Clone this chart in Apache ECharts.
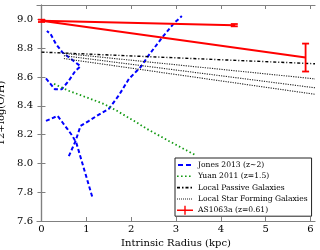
<!DOCTYPE html>
<html><head><meta charset="utf-8">
<script src="https://cdn.jsdelivr.net/npm/echarts@6/dist/echarts.min.js"></script>
<style>html,body{margin:0;padding:0;background:#fff}#c{width:320px;height:250px}</style>
</head><body><div id="c"></div>
<script>
// ---- data ----
const xTicks = [0, 1, 2, 3, 4, 5, 6];
const yTicks = [7.6, 7.8, 8.0, 8.2, 8.4, 8.6, 8.8, 9.0];

// Jones 2013 (z~2) profiles
const jonesAX = [0.10, 0.30, 0.45, 0.60, 0.75, 0.87, 0.64, 0.47, 0.32, 0.20, 0.12];
const jonesAY = [8.59, 8.515, 8.515, 8.57, 8.64, 8.675, 8.73, 8.77, 8.83, 8.90, 8.92];
const jonesBX = [0.10, 0.36, 0.47, 0.58, 0.69, 0.78, 0.95, 1.13];
const jonesBY = [8.295, 8.33, 8.284, 8.238, 8.191, 8.14, 7.96, 7.77];
const jonesCX = [0.61, 0.76, 0.87, 1.06, 1.24, 1.50, 1.72, 1.95, 2.21, 2.39, 2.69, 2.95, 3.13];
const jonesCY = [8.05, 8.156, 8.26, 8.296, 8.331, 8.378, 8.47, 8.587, 8.669, 8.75, 8.874, 8.972, 9.023];

// Yuan 2011 (z=1.5)
const yuanX = [0.28, 0.60, 1.00, 1.39, 1.65, 2.06, 2.36, 2.84, 3.43];
const yuanY = [8.552, 8.505, 8.459, 8.413, 8.371, 8.296, 8.238, 8.156, 8.058];

// Local Passive Galaxies
const passiveX = [0, 6.1];
const passiveY = [8.773, 8.692];

// Local Star Forming Galaxies (three gradients)
const sfX = [0.5, 6.1];
const sf1Y = [8.764, 8.587];
const sf2Y = [8.748, 8.525];
const sf3Y = [8.728, 8.48];

// AS1063a (z=0.61)
const asX = [0, 4.3, 5.89];
const asY = [8.99, 8.96, 8.735];
const asErr = [0.008, 0.008, 0.097];

// ---- build ----
const zip = (xs, ys) => xs.map((x, i) => [x, ys[i]]);
const SERIF = 'DejaVu Serif';
const AX = '#808080';

const JONES = 'Jones 2013 (z\u223c2)';
const YUAN = 'Yuan 2011 (z=1.5)';
const PASS = 'Local Passive Galaxies';
const SF = 'Local Star Forming Galaxies';
const AS = 'AS1063a (z=0.61)';

const blueStyle = {color: '#0000ff', width: 2, type: [4, 2.5]};
const greenStyle = {color: '#129a12', width: 1.8, type: [1.5, 2.5]};
const passStyle = {color: '#000000', width: 1.4, type: [3, 2, 1, 2]};
const sfStyle = {color: '#222222', width: 1.1, type: [1.2, 1.2]};

function lineSeries(name, data, style, z) {
  return {type: 'line', name, data, showSymbol: false, symbol: 'none',
    lineStyle: style, itemStyle: {color: style.color}, z: z || 2, silent: true, animation: false, clip: true};
}

const series = [
  lineSeries(JONES, zip(jonesAX, jonesAY), blueStyle),
  lineSeries(JONES, zip(jonesBX, jonesBY), blueStyle),
  lineSeries(JONES, zip(jonesCX, jonesCY), blueStyle),
  lineSeries(YUAN, zip(yuanX, yuanY), greenStyle),
  lineSeries(PASS, zip(passiveX, passiveY), passStyle),
  lineSeries(SF, zip(sfX, sf1Y), sfStyle),
  lineSeries(SF, zip(sfX, sf2Y), sfStyle),
  lineSeries(SF, zip(sfX, sf3Y), sfStyle),
  {
    type: 'custom', name: AS, data: asX.map((x, i) => [x, asY[i], asErr[i]]),
    itemStyle: {color: '#ff0000'}, z: 4, animation: false, silent: true,
    renderItem: function (params, api) {
      const x = api.value(0), y = api.value(1), e = api.value(2);
      const t = api.coord([x, y + e]), b = api.coord([x, y - e]);
      const hw = 3.5;
      const st = {stroke: '#ff0000', lineWidth: 1.8};
      return {type: 'group', children: [
        {type: 'line', shape: {x1: t[0], y1: t[1], x2: b[0], y2: b[1]}, style: st},
        {type: 'line', shape: {x1: t[0] - hw, y1: t[1], x2: t[0] + hw, y2: t[1]}, style: st},
        {type: 'line', shape: {x1: b[0] - hw, y1: b[1], x2: b[0] + hw, y2: b[1]}, style: st}
      ]};
    }
  },
  lineSeries('as-1', [[asX[0], asY[0]], [asX[1], asY[1]]], {color: '#ff0000', width: 2, type: 'solid'}, 3),
  lineSeries('as-2', [[asX[0], asY[0]], [asX[2], asY[2]]], {color: '#ff0000', width: 2, type: 'solid'}, 3)
];

const axLine = {show: true, lineStyle: {color: AX, width: 1.2}};
const tickIn = (vals) => ({show: true, inside: true, length: 4, customValues: vals, lineStyle: {color: AX, width: 1}});

// legend icons (16x10 box; tiny corner triangles pin the bounding box)
const PIN = 'M0,0L0.01,0L0,0.01Z M16,10L15.99,10L16,9.99Z ';
const ICON_JONES = 'path://' + PIN + 'M1,4H6V6H1Z M9,4H14V6H9Z';
const ICON_YUAN = 'path://' + PIN + 'M0,4.2H1.6V5.8H0Z M4,4.2H5.6V5.8H4Z M8,4.2H9.6V5.8H8Z M12,4.2H13.6V5.8H12Z';
const ICON_PASS = 'path://' + PIN + 'M0,4.2H3V5.8H0Z M5,4.2H6.5V5.8H5Z M8.5,4.2H11.5V5.8H8.5Z M13.5,4.2H15V5.8H13.5Z';
const ICON_SF = 'path://' + PIN + 'M0,4.5H1V5.5H0Z M2,4.5H3V5.5H2Z M4,4.5H5V5.5H4Z M6,4.5H7V5.5H6Z M8,4.5H9V5.5H8Z M10,4.5H11V5.5H10Z M12,4.5H13V5.5H12Z M14,4.5H15V5.5H14Z';
const ICON_AS = 'path://M0,4.3H7.3V0.5H8.7V4.3H16V5.7H8.7V9.5H7.3V5.7H0Z M0,0L0.01,0L0,0.01Z M16,10L15.99,10L16,9.99Z';

const option = {
  animation: false,
  backgroundColor: '#ffffff',
  grid: {left: 37, right: 5, top: 5, bottom: 29, containLabel: false, outerBoundsMode: 'none'},
  xAxis: [
    {type: 'value', min: -0.1, max: 6.1, position: 'bottom',
      axisLine: axLine, axisTick: tickIn(xTicks), splitLine: {show: false},
      axisLabel: {customValues: xTicks, margin: 3, fontFamily: SERIF, fontSize: 10, color: '#000', formatter: v => String(Math.round(v))},
      name: 'Intrinsic Radius (kpc)', nameLocation: 'middle', nameGap: 13,
      nameTextStyle: {fontFamily: SERIF, fontSize: 10, color: '#000'}},
    {type: 'value', min: -0.1, max: 6.1, position: 'top',
      axisLine: axLine, axisTick: tickIn(xTicks), splitLine: {show: false}, axisLabel: {show: false}}
  ],
  yAxis: [
    {type: 'value', min: 7.6, max: 9.1, position: 'left',
      axisLine: axLine, axisTick: tickIn(yTicks), splitLine: {show: false},
      axisLabel: {customValues: yTicks, margin: 4, fontFamily: SERIF, fontSize: 10, color: '#000', formatter: v => v.toFixed(1)},
      name: '12+log(O/H)', nameLocation: 'middle', nameGap: 26,
      nameTextStyle: {fontFamily: SERIF, fontSize: 10, color: '#000'}},
    {type: 'value', min: 7.6, max: 9.1, position: 'right',
      axisLine: axLine, axisTick: tickIn(yTicks), splitLine: {show: false}, axisLabel: {show: false}}
  ],
  legend: {
    orient: 'vertical', left: 175, top: 158,
    padding: [2, 4, 1, 2], itemGap: 1.3, itemWidth: 16, itemHeight: 10,
    backgroundColor: '#ffffff', borderColor: '#222', borderWidth: 1, borderRadius: 0,
    textStyle: {fontFamily: SERIF, fontSize: 7.6, color: '#000'},
    selectedMode: false,
    data: [
      {name: JONES, icon: ICON_JONES, itemStyle: {color: '#0000ff'}},
      {name: YUAN, icon: ICON_YUAN, itemStyle: {color: '#129a12'}},
      {name: PASS, icon: ICON_PASS, itemStyle: {color: '#000000'}},
      {name: SF, icon: ICON_SF, itemStyle: {color: '#222222'}},
      {name: AS, icon: ICON_AS, itemStyle: {color: '#ff0000'}}
    ]
  },
  series
};

const chart = echarts.init(document.getElementById('c'), null, {renderer: 'canvas', width: 320, height: 250});
chart.setOption(option);
</script>
</body></html>
